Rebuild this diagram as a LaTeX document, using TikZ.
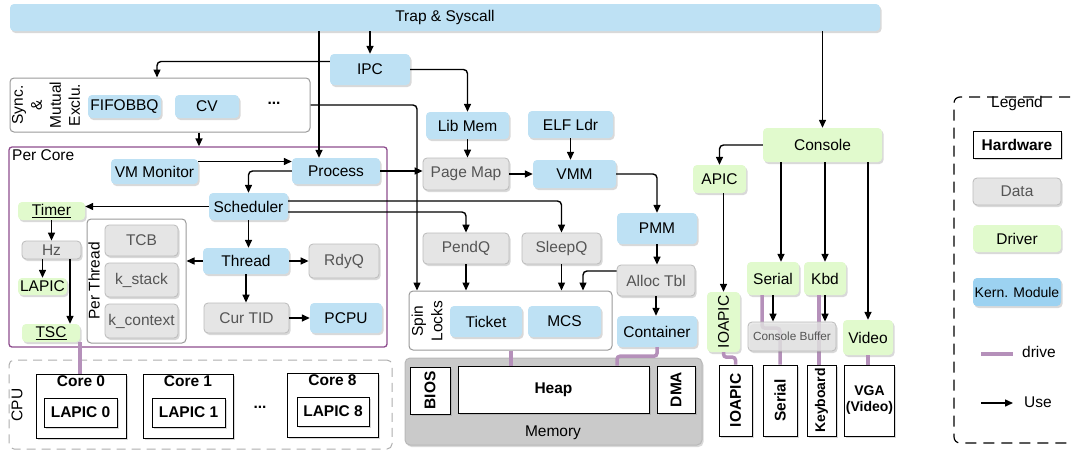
\documentclass[tikz,border=0pt]{standalone}
\usepackage{fontspec}
\setmainfont{Liberation Sans}
\usetikzlibrary{arrows.meta,shadows,calc}
\definecolor{kblue}{HTML}{BEE1F4}
\definecolor{dgreen}{HTML}{E1FACD}
\definecolor{dgray}{HTML}{E5E5E5}
\definecolor{dgrayb}{HTML}{BBBBBB}
\definecolor{dtext}{HTML}{555555}
\definecolor{kleg}{HTML}{9CD2F1}
\definecolor{drivec}{HTML}{B590BA}
\definecolor{pcore}{HTML}{8E4D8E}
\definecolor{memfill}{HTML}{CACACA}
\definecolor{grpb}{HTML}{9A9A9A}
\newcommand{\myfs}{\fontsize{15.5}{18.5}\selectfont}
\newcommand{\mysm}{\fontsize{14}{16}\selectfont}
\tikzset{
  base/.style={font=\myfs, inner sep=1pt, align=center},
  sz/.style 2 args={minimum width=#1pt, minimum height=#2pt},
  shad/.style={drop shadow={opacity=0.3, shadow xshift=1.5pt, shadow yshift=-2pt}},
  box/.style={base, rounded corners=4pt, shad},
  kern/.style={box, fill=kblue},
  drv/.style={box, fill=dgreen},
  dat/.style={box, fill=dgray, draw=dgrayb, line width=0.8pt, text=dtext},
  hw/.style={base, draw=black, line width=1pt, fill=white, font=\myfs\bfseries, shad},
  grp/.style={draw=grpb, line width=1pt, rounded corners=4pt, fill=white, inner sep=0pt},
  use/.style={draw=black, line width=1.4pt, rounded corners=4pt, -{Triangle[length=8pt,width=7pt]}},
  drive/.style={draw=drivec, line width=3.5pt, rounded corners=3pt},
  lbl/.style={base, inner sep=0pt}
}
\begin{document}
\begin{tikzpicture}[x=1pt,y=-1pt]
\useasboundingbox (0,0) rectangle (1073,450);
% lanes
\coordinate (laneA) at (319,0);
\coordinate (laneB) at (417,0);
\coordinate (laneC) at (199,0);
\coordinate (laneD) at (70,0);
\coordinate (laneE) at (80,0);
\coordinate (laneF) at (583,0);
\coordinate (laneG) at (617,0);
\coordinate (laneH) at (511,0);
\coordinate (laneI) at (781,0);
\coordinate (laneJ) at (762,0);
\coordinate (laneK) at (819,0);

% top bar
\node[kern, sz={870}{27}] (trap) at (445,17.5) {Trap \& Syscall};
\node[kern, sz={80}{31}] (ipc) at (370,69.5) {IPC};

% sync
\node[grp, sz={300}{54}] (sync) at (160,105) {};
\node[lbl, rotate=90, font=\fontsize{15.5}{19}\selectfont] (synclbl) at (46,105) {Sync.\\\&\\Mutual\\Exclu.};
\node[kern, sz={73}{23}] (fifo) at (124.5,106.5) {FIFOBBQ};
\node[kern, sz={64}{23}] (cv) at (207,106.5) {CV};
\node[lbl, font=\myfs\bfseries] (dots) at (274,103) {...};

% per core
\node[draw=pcore, line width=1.3pt, rounded corners=3pt, sz={378}{200}, inner sep=0pt] (percore) at (198,247) {};
\node[lbl, anchor=north west] (percorelbl) at (12,149) {Per Core};
\node[kern, sz={87}{25}] (vmmon) at (154.5,171.5) {VM Monitor};
\node[kern, sz={88}{26}] (process) at (336,171) {Process};
\node[kern, sz={79}{27}] (scheduler) at (248.5,206.5) {Scheduler};
\node[drv, sz={67}{18}] (timer) at (51.5,211) {\underline{Timer}};
\node[dat, sz={59}{18}] (hz) at (51.5,250) {Hz};
\node[drv, sz={49}{17}] (lapic) at (42.5,286.5) {LAPIC};
\node[drv, sz={58}{18}] (tsc) at (51,333) {\underline{TSC}};
\node[grp, sz={99}{124}] (perthread) at (136.5,281) {};
\node[lbl, rotate=90] (perthreadlbl) at (94,281) {Per Thread};
\node[dat, sz={73}{31}] (tcb) at (141.5,240.5) {TCB};
\node[dat, sz={73}{34}] (kstack) at (141.5,280) {k\_stack};
\node[dat, sz={73}{34}] (kcontext) at (141.5,321) {k\_context};
\node[kern, sz={86}{26}] (thread) at (246,261) {Thread};
\node[dat, sz={70}{34}] (rdyq) at (344,261) {RdyQ};
\node[dat, sz={85}{30}] (curtid) at (246.5,318) {Cur TID};
\node[kern, sz={72}{30}] (pcpu) at (346,318) {PCPU};

% memory mgmt
\node[kern, sz={83}{27}] (libmem) at (467.5,125.5) {Lib Mem};
\node[kern, sz={85}{27}] (elfldr) at (570.5,124.5) {ELF Ldr};
\node[dat, sz={86}{32}] (pagemap) at (466,174) {Page Map};
\node[kern, sz={83}{28}] (vmm) at (574.5,174) {VMM};
\node[kern, sz={80}{31}] (pmm) at (657,228.5) {PMM};
\node[dat, sz={78}{31}] (alloctbl) at (656,280.5) {Alloc Tbl};
\node[kern, sz={80}{31}] (container) at (657,331.5) {Container};
\node[dat, sz={86}{31}] (pendq) at (466,248.5) {PendQ};
\node[dat, sz={79}{31}] (sleepq) at (561.5,248.5) {SleepQ};
\node[grp, sz={203}{59}] (spinlocks) at (510.5,320.5) {};
\node[lbl, rotate=90, font=\fontsize{15.5}{19.5}\selectfont] (spinlbl) at (427,321) {Spin\\Locks};
\node[kern, sz={72}{31}] (ticket) at (486,321.5) {Ticket};
\node[kern, sz={73}{31}] (mcs) at (564.5,321.5) {MCS};

% CPU
\node[draw=grpb!80, dash pattern=on 9pt off 6pt, line width=1pt, rounded corners=5pt, sz={383}{89}, inner sep=0pt] (cpu) at (200.5,404.5) {};
\node[lbl, rotate=90] (cpulbl) at (17,405) {CPU};
\node[hw, sz={90}{64}, label={[anchor=north, inner sep=1pt, yshift=-1pt, font=\myfs\bfseries]north:Core 0}] (core0) at (81,406) {};
\node[hw, line width=0.8pt, sz={73}{29}, drop shadow={opacity=0}] (lapic0) at (80.5,412.5) {LAPIC 0};
\node[hw, sz={90}{64}, label={[anchor=north, inner sep=1pt, yshift=-1pt, font=\myfs\bfseries]north:Core 1}] (core1) at (188,406) {};
\node[hw, line width=0.8pt, sz={73}{29}, drop shadow={opacity=0}] (lapic1) at (188.5,412.5) {LAPIC 1};
\node[lbl, font=\myfs\bfseries] (cpudots) at (260,407) {...};
\node[hw, sz={91}{64}, label={[anchor=north, inner sep=1pt, yshift=-1pt, font=\myfs\bfseries]north:Core 8}] (core8) at (332.5,405) {};
\node[hw, line width=0.8pt, sz={72}{29}, drop shadow={opacity=0}] (lapic8) at (333,411.5) {LAPIC 8};

% Memory
\node[fill=memfill, draw=grpb!70, line width=1pt, rounded corners=5pt, sz={297}{87}, inner sep=0pt, shad] (memory) at (553.5,401.5) {};
\node[lbl] (memlbl) at (553,433) {Memory};
\node[hw, sz={40}{47}] (bios) at (430,390.5) {};
\node[lbl, rotate=90, font=\myfs\bfseries] (bioslbl) at (bios) {BIOS};
\node[hw, sz={191}{47}] (heap) at (553.5,389.5) {Heap};
\node[hw, sz={38}{47}] (dma) at (676,389.5) {};
\node[lbl, rotate=90, font=\myfs\bfseries] (dmalbl) at (dma) {DMA};

% hardware devices
\node[hw, sz={33}{71}] (hwioapic) at (735.5,400.5) {};
\node[lbl, rotate=90, font=\myfs\bfseries] (hwioapiclbl) at (hwioapic) {IOAPIC};
\node[hw, sz={34}{71}] (hwserial) at (780,400.5) {};
\node[lbl, rotate=90, font=\myfs\bfseries] (hwseriallbl) at (hwserial) {Serial};
\node[hw, sz={29}{71}] (hwkbd) at (821.5,400.5) {};
\node[lbl, rotate=90, font=\mysm\bfseries] (hwkbdlbl) at (hwkbd) {Keyboard};
\node[hw, sz={49}{71}, font=\mysm\bfseries] (vga) at (869.5,400.5) {VGA\\(Video)};

% drivers
\node[drv, sz={119}{34}] (console) at (822.5,145) {Console};
\node[drv, sz={53}{28}] (apic) at (719.5,179) {APIC};
\node[drv, sz={33}{60}] (ioapicd) at (723.5,322) {};
\node[lbl, rotate=90] (ioapicdlbl) at (ioapicd) {IOAPIC};
\node[drv, sz={52}{33}] (serial) at (773,278.5) {Serial};
\node[drv, sz={42}{33}] (kbd) at (825,278.5) {Kbd};
\node[drv, sz={50}{35}] (video) at (868,337.5) {Video};
\draw[drive] (serial.south -| laneJ) -- ++(0,33) -| (hwserial.north);
\draw[drive] (kbd.south -| laneK) -- (hwkbd.north -| laneK);
\node[dat, sz={88}{29}, fill opacity=0.8, text opacity=1, font=\fontsize{11.8}{14}\selectfont] (cbuf) at (792,336.5) {Console Buffer};

% legend
\node[draw=black, dash pattern=on 11pt off 7pt, line width=1.2pt, rounded corners=6pt, sz={140}{346}, inner sep=0pt] (legend) at (1024,270) {};
\node[lbl] (legendlbl) at (1017,103) {Legend};
\node[hw, sz={88}{27}] (lghw) at (1017,144.5) {Hardware};
\node[dat, sz={88}{27}] (lgdata) at (1017,191.5) {Data};
\node[drv, sz={88}{27}] (lgdrv) at (1017,238.5) {Driver};
\node[box, fill=kleg, sz={88}{28}, font=\mysm] (lgkern) at (1017,292) {Kern. Module};
\coordinate (dA) at (981,354);
\coordinate (dB) at (1013,354);
\draw[drive, rounded corners=0pt] (dA) -- (dB);
\node[lbl, anchor=west] (lgdrive) at (1022,352) {drive};
\coordinate (uA) at (981,403);
\coordinate (uB) at (1013,403);
\draw[use] (uA) -- (uB);
\node[lbl, anchor=west] (lguse) at (1024,402) {Use};

% connectors
\draw[use] (trap.south -| laneA) -- (process.north -| laneA);
\draw[use] (trap.south -| ipc.north) -- (ipc.north);
\draw[use] ([yshift=8pt]ipc.west) -| ([xshift=-3pt]sync.north);
\draw[use] (ipc.east) -| (libmem.north);
\draw[use] (sync.east) -| (spinlocks.north -| laneB);
\draw[use] (sync.south -| laneC) -- (percore.north -| laneC);
\draw[use] ([yshift=10pt]vmmon.east) coordinate (vmA) -- (process.west |- vmA);
\draw[use] (process.east) -- (pagemap.west |- process.east);
\draw[use] (process.west) -| (scheduler.north);
\draw[use] (scheduler.west) -- (timer.east |- scheduler.west);
\draw[use] ([yshift=5.5pt]scheduler.east) -| (sleepq.north);
\draw[use] ([yshift=-5.5pt]scheduler.east) -| (pendq.north);
\draw[use] (scheduler.south) -- (scheduler.south |- thread.north);
\draw[use] (thread.west) -- (perthread.east |- thread.west);
\draw[use] (thread.east) -- (rdyq.west);
\draw[use] (thread.south) -- (thread.south |- curtid.north);
\draw[use] (curtid.east) -- (pcpu.west);
\draw[use] (timer.south) -- (timer.south |- hz.north);
\draw[use] (hz.south -| lapic.north) -- (lapic.north);
\draw[use] (hz.south -| laneD) -- (tsc.north -| laneD);
\draw[drive] (tsc.south -| laneE) -- (core0.north -| laneE);
\draw[use] (libmem.south) -- (libmem.south |- pagemap.north);
\draw[use] (elfldr.south) -- (elfldr.south |- vmm.north);
\draw[use] (pagemap.east) -- (vmm.west |- pagemap.east);
\draw[use] (vmm.east) -| (pmm.north);
\draw[use] (pmm.south) -- (pmm.south |- alloctbl.north);
\draw[use] (alloctbl.south) -- (alloctbl.south |- container.north);
\draw[use] ([yshift=9.5pt]alloctbl.west) -| (spinlocks.north -| laneF);
\draw[use] (pendq.south) -- (pendq.south |- spinlocks.north);
\draw[use] (sleepq.south) -- (sleepq.south |- spinlocks.north);
\draw[drive] (container.south) -- ++(0,9) -| (heap.north -| laneG);
\draw[drive] (spinlocks.south -| laneH) -- (heap.north -| laneH);
\draw[use] (trap.south -| console.north) -- (console.north);
\draw[use] (console.west) -| (apic.north);
\draw[use] (apic.south -| ioapicd.north) -- (ioapicd.north);
\draw[use] (console.south -| laneI) -- (serial.north -| laneI);
\draw[use] (console.south -| kbd.north) -- (kbd.north);
\draw[use] (console.south -| video.north) -- (video.north);
\draw[use] (serial.south) -- (serial.south |- cbuf.north);
\draw[use] (kbd.south) -- (kbd.south |- cbuf.north);
\draw[drive] (video.south) -- (video.south |- vga.north);
\draw[drive] (ioapicd.south) -- ++(0,5) -| (hwioapic.north);
\end{tikzpicture}
\end{document}
